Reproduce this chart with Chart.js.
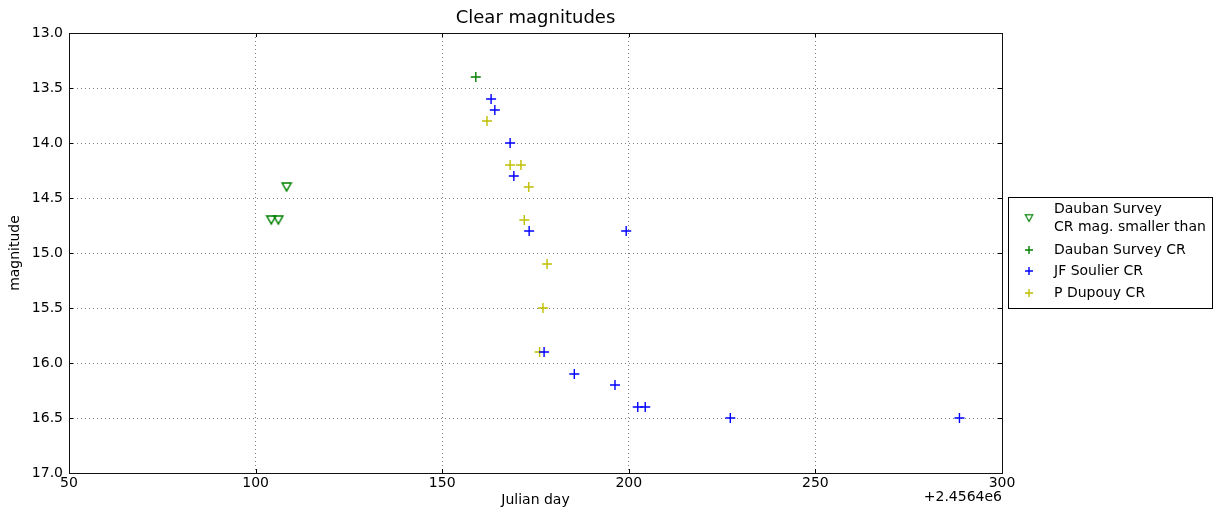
<!DOCTYPE html>
<html>
<head>
<meta charset="utf-8">
<script src="https://cdn.jsdelivr.net/npm/chart.js@4/dist/chart.umd.min.js"></script>
<style>
    html, body { margin: 0; padding: 0; background: #fff; }
    #wrap { width: 1217px; height: 510px; }
</style>
</head>
<body>
<div id="wrap"><canvas id="magChart" width="1217" height="510"></canvas></div>
<script>
"use strict";

// Julian day offset from 2456400 and Clear (CR) magnitudes
var daubanLimitDays = [104.2, 106.1, 108.3];
var daubanLimitMags = [14.7, 14.7, 14.4];

var daubanDays = [159.0];
var daubanMags = [13.4];

var soulierDays = [163.1, 164.1, 168.2, 169.2, 173.3, 199.3, 177.3, 185.4, 196.3, 202.4, 204.4, 227.2, 288.6];
var soulierMags = [13.6, 13.7, 14.0, 14.3, 14.8, 14.8, 15.9, 16.1, 16.2, 16.4, 16.4, 16.5, 16.5];

var dupouyDays = [162.0, 168.2, 171.1, 173.2, 172.0, 178.1, 177.0, 176.1];
var dupouyMags = [13.8, 14.2, 14.2, 14.4, 14.7, 15.1, 15.5, 15.9];

var xTicks = [50, 100, 150, 200, 250, 300];
var yTicks = [13.0, 13.5, 14.0, 14.5, 15.0, 15.5, 16.0, 16.5, 17.0];

var seriesLabels = [
    ['Dauban Survey', 'CR mag. smaller than'],
    ['Dauban Survey CR'],
    ['JF Soulier CR'],
    ['P Dupouy CR']
];

var FONT = '"DejaVu Sans", sans-serif';

function toPoints(days, mags) {
    return days.map(function(d, i) { return { x: d, y: mags[i] }; });
}

// hollow down-triangle, centred on its bounding box like matplotlib's 'v'
function makeDownTriangle(color) {
    var c = document.createElement('canvas');
    c.width = 12;
    c.height = 12;
    var g = c.getContext('2d');
    g.strokeStyle = color;
    g.lineWidth = 1.5;
    g.lineJoin = 'miter';
    g.beginPath();
    g.moveTo(1.5, 2);
    g.lineTo(10.5, 2);
    g.lineTo(6, 10);
    g.closePath();
    g.stroke();
    return c;
}

var downTriangle = makeDownTriangle('#008000');

var frameAndExtras = {
    id: 'frameAndExtras',
    afterDraw: function(chart) {
        var ctx = chart.ctx;
        var area = chart.chartArea;
        var xs = chart.scales.x;
        var ys = chart.scales.y;
        ctx.save();

        // inward ticks on all four sides
        ctx.strokeStyle = '#000';
        ctx.lineWidth = 1;
        ctx.beginPath();
        xTicks.forEach(function(t) {
            var px = Math.round(xs.getPixelForValue(t)) + 0.5;
            ctx.moveTo(px, area.bottom); ctx.lineTo(px, area.bottom - 4);
            ctx.moveTo(px, area.top); ctx.lineTo(px, area.top + 4);
        });
        yTicks.forEach(function(t) {
            var py = Math.round(ys.getPixelForValue(t)) + 0.5;
            ctx.moveTo(area.left, py); ctx.lineTo(area.left + 4, py);
            ctx.moveTo(area.right, py); ctx.lineTo(area.right - 4, py);
        });
        ctx.stroke();

        // frame
        ctx.strokeStyle = '#111';
        ctx.strokeRect(Math.round(area.left) + 0.5, Math.round(area.top) + 0.5,
            Math.round(area.right - area.left), Math.round(area.bottom - area.top));

        // title
        ctx.fillStyle = '#000';
        ctx.font = '18px ' + FONT;
        ctx.textAlign = 'center';
        ctx.textBaseline = 'middle';
        ctx.fillText('Clear magnitudes', (area.left + area.right) / 2, 18);

        // offset text
        ctx.font = '14px ' + FONT;
        ctx.textAlign = 'right';
        ctx.fillText('+2.4564e6', area.right, 497);

        // legend
        var bx = 1008.5, by = 197.5, bw = 204, bh = 111;
        ctx.fillStyle = '#fff';
        ctx.fillRect(bx, by, bw, bh);
        ctx.strokeStyle = '#000';
        ctx.strokeRect(bx, by, bw, bh);
        var rows = [[209, 227], [250], [271], [293]];
        var markerY = [218, 250, 271, 293];
        ctx.font = '14px ' + FONT;
        ctx.textAlign = 'left';
        chart.data.datasets.forEach(function(ds, i) {
            ctx.fillStyle = '#000';
            seriesLabels[i].forEach(function(line, j) {
                ctx.fillText(line, 1054, rows[i][j]);
            });
            if (ds.pointStyle instanceof HTMLCanvasElement) {
                ctx.drawImage(ds.pointStyle, 1029 - 5, markerY[i] - 5, 10, 10);
                return;
            }
            ctx.strokeStyle = ds.borderColor;
            ctx.fillStyle = ds.backgroundColor;
            ctx.lineWidth = ds.borderWidth;
            Chart.helpers.drawPoint(ctx, {
                pointStyle: ds.pointStyle,
                rotation: 0,
                radius: ds.legendRadius,
                borderWidth: ds.borderWidth
            }, 1029, markerY[i]);
        });
        ctx.restore();
    }
};

new Chart(document.getElementById('magChart').getContext('2d'), {
    type: 'scatter',
    data: {
        datasets: [
            {
                label: seriesLabels[0].join(' '),
                data: toPoints(daubanLimitDays, daubanLimitMags),
                pointStyle: downTriangle,
                pointRadius: 6,
                backgroundColor: 'rgba(0,0,0,0)',
                borderColor: '#008000',
                borderWidth: 1.5
            },
            {
                label: seriesLabels[1][0],
                data: toPoints(daubanDays, daubanMags),
                pointStyle: 'cross',
                pointRadius: 5,
                legendRadius: 4,
                backgroundColor: '#008000',
                borderColor: '#008000',
                borderWidth: 1.4
            },
            {
                label: seriesLabels[2][0],
                data: toPoints(soulierDays, soulierMags),
                pointStyle: 'cross',
                pointRadius: 5,
                legendRadius: 4,
                backgroundColor: '#0000ff',
                borderColor: '#0000ff',
                borderWidth: 1.4
            },
            {
                label: seriesLabels[3][0],
                data: toPoints(dupouyDays, dupouyMags),
                pointStyle: 'cross',
                pointRadius: 5,
                legendRadius: 4,
                backgroundColor: '#bfbf00',
                borderColor: '#bfbf00',
                borderWidth: 1.4
            }
        ]
    },
    options: {
        responsive: false,
        animation: false,
        layout: { padding: { top: 33, right: 215, left: 0, bottom: 0 } },
        plugins: {
            legend: { display: false },
            tooltip: { enabled: false },
            title: { display: false }
        },
        scales: {
            x: {
                type: 'linear',
                min: 50,
                max: 300,
                afterFit: function(scale) { scale.height = 37; },
                afterBuildTicks: function(scale) {
                    scale.ticks = xTicks.map(function(v) { return { value: v }; });
                },
                ticks: {
                    color: '#000',
                    font: { family: FONT, size: 14 },
                    padding: 2,
                    maxRotation: 0,
                    autoSkip: false,
                    callback: function(v) { return String(v); }
                },
                grid: { color: '#000', lineWidth: 0.5, drawTicks: false },
                border: { display: false, dash: [1, 3] },
                title: {
                    display: true,
                    text: 'Julian day',
                    color: '#000',
                    font: { family: FONT, size: 14 },
                    padding: { top: 0, bottom: 1 }
                }
            },
            y: {
                type: 'linear',
                reverse: true,
                min: 13,
                max: 17,
                afterFit: function(scale) { scale.width = 69; },
                afterBuildTicks: function(scale) {
                    scale.ticks = yTicks.map(function(v) { return { value: v }; });
                },
                ticks: {
                    color: '#000',
                    font: { family: FONT, size: 14 },
                    padding: 6,
                    autoSkip: false,
                    callback: function(v) { return Number(v).toFixed(1); }
                },
                grid: { color: '#000', lineWidth: 0.5, drawTicks: false },
                border: { display: false, dash: [1, 3] },
                title: {
                    display: true,
                    text: 'magnitude',
                    color: '#000',
                    font: { family: FONT, size: 14 },
                    padding: { top: 7, bottom: 0 }
                }
            }
        }
    },
    plugins: [frameAndExtras]
});
</script>
</body>
</html>
